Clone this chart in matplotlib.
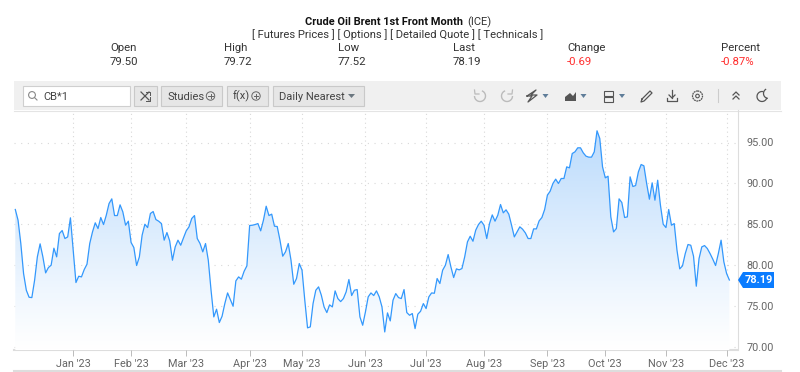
import matplotlib
matplotlib.use("Agg")
import matplotlib.pyplot as plt
import numpy as np
from matplotlib.colors import LinearSegmentedColormap
from matplotlib.patches import Rectangle, Polygon, Circle, Arc

plt.rcParams['font.family'] = ['Roboto', 'DejaVu Sans']

# daily closes
prices = [
    86.81, 85.50, 82.65, 78.98, 76.94, 76.08, 76.04, 78.16, 81.02, 82.61, 81.02, 79.06, 79.71, 80.00, 82.08, 81.02,
    83.87, 84.24, 83.26, 83.46, 85.79, 81.83, 77.88, 78.65, 78.57, 79.47, 80.12, 82.65, 84.07, 85.18, 84.48, 85.83,
    84.97, 86.11, 87.54, 88.11, 86.07, 86.07, 87.38, 86.52, 84.89, 85.38, 82.77, 82.16, 79.96, 81.02, 83.67, 85.01,
    84.60, 86.32, 86.56, 85.58, 85.38, 85.09, 83.06, 83.99, 82.97, 80.61, 82.24, 83.06, 82.44, 83.34, 84.20, 84.69,
    85.71, 86.07, 83.26, 82.65, 81.63, 82.65, 80.61, 76.94, 73.68, 74.62, 72.99, 73.76, 75.31, 76.61, 75.80, 74.98,
    78.08, 78.57, 78.29, 79.26, 79.92, 84.85, 84.89, 84.97, 85.09, 84.20, 85.50, 87.21, 86.07, 86.24, 84.77, 84.73,
    83.06, 81.10, 81.63, 82.65, 80.61, 77.67, 78.37, 80.20, 79.39, 75.72, 72.34, 72.46, 75.31, 76.94, 77.35, 76.33,
    74.90, 74.21, 75.15, 74.90, 76.86, 75.92, 75.55, 75.92, 76.74, 78.25, 76.29, 76.94, 77.02, 73.68, 72.66, 74.29,
    76.13, 76.61, 76.29, 76.86, 76.13, 74.90, 71.84, 74.17, 73.19, 75.72, 76.53, 76.04, 75.92, 77.02, 74.21, 73.88,
    74.09, 72.25, 74.01, 74.37, 75.31, 74.70, 76.13, 76.61, 76.57, 78.37, 77.76, 79.39, 80.00, 81.30, 79.79, 78.49,
    79.55, 79.43, 79.59, 81.02, 82.85, 83.54, 82.93, 84.28, 84.97, 85.38, 84.89, 83.26, 85.09, 86.15, 85.38, 86.11,
    87.42, 86.40, 86.77, 86.24, 84.89, 83.46, 84.07, 84.69, 84.40, 83.95, 83.26, 83.26, 84.44, 84.44, 85.42, 85.83,
    86.81, 88.56, 89.05, 89.99, 90.52, 89.99, 90.60, 90.60, 92.02, 91.90, 93.65, 93.86, 94.35, 94.35, 93.74, 93.33,
    93.21, 93.21, 93.86, 96.43, 95.49, 92.02, 90.68, 90.88, 85.91, 84.07, 84.48, 88.11, 87.66, 85.83, 85.91, 90.80,
    89.62, 89.74, 91.41, 92.31, 92.15, 89.99, 88.07, 90.07, 87.95, 90.39, 87.34, 85.01, 84.60, 86.81, 84.89, 85.09,
    81.83, 79.55, 79.92, 81.42, 82.53, 82.44, 81.10, 77.43, 80.81, 82.24, 82.40, 82.04, 81.42, 80.73, 79.96, 81.42,
    83.06, 80.41, 78.98, 78.19,
]
month_labels = ["Jan '23", "Feb '23", "Mar '23", "Apr '23", "May '23", "Jun '23",
                "Jul '23", "Aug '23", "Sep '23", "Oct '23", "Nov '23", "Dec '23"]
month_pos = [21, 42, 62, 85, 104, 127, 149, 170, 193, 214, 236, 258]
price_ticks = [70, 75, 80, 85, 90, 95]

quote_heads = ["Open", "High", "Low", "Last", "Change", "Percent"]
quote_vals = ["79.50", "79.72", "77.52", "78.19", "-0.69", "-0.87%"]
quote_x = [110, 224, 338, 453, 567, 721]

W, H = 800, 372
fig = plt.figure(figsize=(8, 3.72), dpi=100)

# page layer in pixel coords
bg = fig.add_axes([0, 0, 1, 1])
bg.set_xlim(0, W)
bg.set_ylim(H, 0)
bg.axis("off")

dark = "#333333"
gray = "#666666"
icon = "#555555"

# header
bg.text(305, 22, "Crude Oil Brent 1st Front Month", fontsize=7.95, fontweight="bold", color="#111111", va="center")
bg.text(467, 22, "(ICE)", fontsize=8, color=dark, va="center")
bg.text(398, 35, "[ Futures Prices ] [ Options ] [ Detailed Quote ] [ Technicals ]", fontsize=8.1, color=dark,
        ha="center", va="center")
for head, val, x in zip(quote_heads, quote_vals, quote_x):
    bg.text(x, 48, head, fontsize=8.2, color=dark, va="center")
    col = "#ff2e2e" if val.startswith("-") else dark
    bg.text(x, 62, val, fontsize=8.2, color=col, va="center")

# toolbar
bg.add_patch(Rectangle((14, 81), 767, 29, fc="#f0f0f0", ec="none"))
bg.add_patch(Rectangle((22.5, 85.5), 107, 20, fc="white", ec="#cfcfcf", lw=0.8))
bg.add_patch(Circle((32, 95), 3.4, fc="none", ec="#888888", lw=0.8))
bg.plot([34.5, 37], [97.5, 100], color="#888888", lw=0.8)
bg.text(43, 96.5, "CB*1", fontsize=8, color="#444444", va="center")
for x0, x1 in [(133.5, 156.5), (160.5, 222), (226.5, 268), (272.5, 363.5)]:
    bg.add_patch(Rectangle((x0, 85.5), x1 - x0, 20, fc="#e6e6e6", ec="#c9c9c9", lw=0.8))
bg.plot([141, 149], [92, 100], color=icon, lw=0.9)
bg.plot([141, 149], [100, 92], color=icon, lw=0.9)
bg.plot([146, 149.5, 149.5], [91.5, 91.5, 95], color=icon, lw=0.7)
bg.plot([146, 149.5, 149.5], [100.5, 100.5, 97], color=icon, lw=0.7)
bg.text(167, 96.5, "Studies", fontsize=8, color="#444444", va="center")
bg.text(233, 96.5, "f(x)", fontsize=8, color="#444444", va="center")
for cx in [210.5, 256]:
    bg.add_patch(Circle((cx, 96), 4.2, fc="none", ec="#666666", lw=0.7))
    bg.plot([cx - 2.3, cx + 2.3], [96, 96], color="#666666", lw=0.7)
    bg.plot([cx, cx], [93.7, 98.3], color="#666666", lw=0.7)
bg.text(279, 96.5, "Daily Nearest", fontsize=8, color="#444444", va="center")
bg.add_patch(Polygon([(348, 94), (355, 94), (351.5, 98)], fc="#6b7780", ec="none"))

# right side toolbar icons
bg.add_patch(Arc((480, 96), 11, 11, theta1=0, theta2=250, angle=-70, color="#bbbbbb", lw=1))
bg.plot([474.5, 475, 479], [90, 94, 94], color="#bbbbbb", lw=0.9)
bg.add_patch(Arc((507, 96), 11, 11, theta1=0, theta2=250, angle=-0, color="#bbbbbb", lw=1))
bg.plot([512.5, 512, 508], [90, 94, 94], color="#bbbbbb", lw=0.9)
bg.plot([527, 536, 531, 537, 528, 532, 527], [96, 90, 95, 95, 102, 96, 96], color=icon, lw=0.9)
bg.add_patch(Polygon([(565, 101), (565, 97), (570, 93), (573, 96), (576, 92), (576, 101)], fc=icon, ec="none"))
bg.add_patch(Rectangle((604, 90.5), 9, 5, fc="none", ec=icon, lw=0.8))
bg.add_patch(Rectangle((604, 96.5), 9, 5, fc="none", ec=icon, lw=0.8))
for cx in [545.5, 583.5, 622]:
    bg.add_patch(Polygon([(cx - 3, 94), (cx + 3, 94), (cx, 98)], fc="#5f7d99", ec="none"))
bg.plot([642, 650, 652, 644, 641, 642], [99, 91, 93, 101, 102, 99], color=icon, lw=0.9)
bg.plot([672, 672], [90, 98], color=icon, lw=0.9)
bg.plot([669, 672, 675], [95, 98, 95], color=icon, lw=0.9)
bg.plot([667, 667, 677, 677], [98, 101, 101, 98], color=icon, lw=0.9)
bg.add_patch(Circle((697.5, 96), 5, fc="none", ec=icon, lw=0.9, ls=(0, (1.5, 0.5))))
bg.add_patch(Circle((697.5, 96), 1.8, fc="none", ec=icon, lw=0.8))
bg.plot([717.5, 717.5], [89, 102], color="#cccccc", lw=0.8)
for dy in [0, 4]:
    bg.plot([733, 736, 739], [95 + dy, 92 + dy, 95 + dy], color=icon, lw=0.9)
# moon: outer arc plus the inner cut
moon_x = 762 + 5 * np.cos(np.radians(np.arange(20, 285, 10)))
moon_y = 96.5 + 5 * np.sin(np.radians(np.arange(20, 285, 10)))
bg.plot(moon_x, moon_y, color=icon, lw=0.9)
cut_x = 768.5 - 5 * np.cos(np.radians(np.arange(-55, 85, 10)))
cut_y = 93.5 + 5 * np.sin(np.radians(np.arange(-55, 85, 10)))
bg.plot(cut_x, cut_y, color=icon, lw=0.9)

# chart frame lines
bg.plot([14, 781], [110.5, 110.5], color="#e4e4e4", lw=0.8)
bg.plot([14, 737], [350, 350], color="#dddddd", lw=1.5)
bg.plot([14, 781], [371, 371], color="#dddddd", lw=1.5)
bg.plot([737.5, 737.5], [110, 350], color="#dddddd", lw=0.8)

# chart itself
left, right, top, bottom = 14, 737, 110, 350
ax = fig.add_axes([left / W, 1 - bottom / H, (right - left) / W, (bottom - top) / H])
ax.patch.set_alpha(0)
days = np.arange(len(prices))
ppx = 2.757
ax.set_xlim(-1.3 / ppx, (right - left - 1.3) / ppx)
upp = 5 / 40.9
ax.set_ylim(70 - (bottom - 347) * upp, 70 + (347 - top) * upp)

for m in month_pos:
    ax.axvline(m, color="#d8d8d8", lw=0.8, ls=(0, (1, 3)), zorder=1)
for p in price_ticks:
    ax.axhline(p, color="#d8d8d8", lw=0.8, ls=(0, (1, 5)), zorder=1)

grad = LinearSegmentedColormap.from_list("g", ["#ffffff", "#bbdbfc"])
ymin, ymax = ax.get_ylim()
img = ax.imshow(np.linspace(0, 1, 256).reshape(-1, 1) ** 1.1, cmap=grad, origin="lower", aspect="auto",
                extent=[0, len(prices) - 1, ymin, 96.5], zorder=2)
poly = ax.fill_between(days, prices, ymin, color="none")
img.set_clip_path(poly.get_paths()[0], transform=ax.transData)
ax.set_xlim(-1.3 / ppx, (right - left - 1.3) / ppx)
ax.set_ylim(ymin, ymax)
ax.plot(days, prices, color="#3398fc", lw=0.9, zorder=3, solid_joinstyle="round")

for s in ax.spines.values():
    s.set_visible(False)
ax.set_xticks(month_pos)
ax.set_xticklabels(month_labels, fontsize=7.8, color=gray)
ax.tick_params(axis="x", length=4, width=0.7, color="#bbbbbb", pad=2.5)
ax.yaxis.tick_right()
ax.set_yticks(price_ticks)
ax.set_yticklabels([f"{p:.2f}" for p in price_ticks], fontsize=7.8, color=gray)
ax.tick_params(axis="y", length=0, pad=7)

# last price tag
bg.add_patch(Polygon([(738, 280), (743, 272), (774, 272), (774, 288), (743, 288)], fc="#0a7cff", ec="none", zorder=5))
bg.text(758.5, 280, f"{prices[-1]:.2f}", fontsize=7.8, fontweight="bold", color="white", ha="center", va="center", zorder=6)

fig.savefig("out.png", dpi=100)
